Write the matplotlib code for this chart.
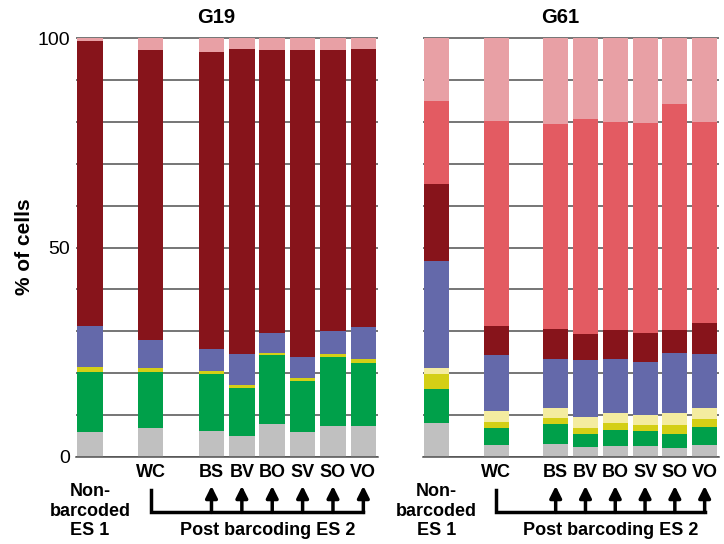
import matplotlib.pyplot as plt
import numpy as np

samples = ["Non", "WC", "BS", "BV", "BO", "SV", "SO", "VO"]
positions = [0, 2, 4, 5, 6, 7, 8, 9]
tick_names = ["", "WC", "BS", "BV", "BO", "SV", "SO", "VO"]

# percent of cells per population, stacked bottom -> top
g19_gray = [6.0, 6.8, 6.2, 5.0, 7.8, 6.0, 7.5, 7.4]
g19_green = [14.4, 13.4, 13.6, 11.5, 16.6, 12.1, 16.3, 15.1]
g19_yellow = [1.0, 1.1, 0.8, 0.8, 0.5, 0.8, 0.8, 0.9]
g19_ltyellow = [0, 0, 0, 0, 0, 0, 0, 0]
g19_blue = [9.9, 6.6, 5.2, 7.3, 4.6, 4.9, 5.4, 7.7]
g19_darkred = [68.1, 69.3, 71.0, 72.8, 67.8, 73.4, 67.3, 66.3]
g19_red = [0, 0, 0, 0, 0, 0, 0, 0]
g19_pink = [0.6, 2.8, 3.2, 2.6, 2.7, 2.8, 2.7, 2.6]

g61_gray = [8.1, 2.8, 3.2, 2.4, 2.5, 2.6, 2.2, 2.8]
g61_green = [8.2, 4.0, 4.6, 3.2, 3.9, 3.6, 3.4, 4.4]
g61_yellow = [3.4, 1.6, 1.5, 1.4, 1.7, 1.5, 2.0, 1.8]
g61_ltyellow = [1.6, 2.5, 2.5, 2.6, 2.5, 2.3, 2.9, 2.6]
g61_blue = [25.5, 13.4, 11.7, 13.5, 12.9, 12.6, 14.4, 12.9]
g61_darkred = [18.5, 6.9, 7.0, 6.2, 6.8, 6.9, 5.5, 7.4]
g61_red = [19.6, 49.0, 49.1, 51.5, 49.8, 50.2, 53.9, 48.2]
g61_pink = [15.1, 19.8, 20.4, 19.2, 19.9, 20.3, 15.7, 19.9]

colors = ["#c0c0c0", "#00a04a", "#d4cf16", "#f4eca0",
          "#6469aa", "#87141b", "#e35b62", "#e8a0a5"]

g19 = [g19_gray, g19_green, g19_yellow, g19_ltyellow,
       g19_blue, g19_darkred, g19_red, g19_pink]
g61 = [g61_gray, g61_green, g61_yellow, g61_ltyellow,
       g61_blue, g61_darkred, g61_red, g61_pink]

plt.rcParams["font.family"] = ["Liberation Sans", "DejaVu Sans"]

fig = plt.figure(figsize=(7.24, 5.44), dpi=100)
ax1 = fig.add_axes([0.105, 0.160, 0.417, 0.772])
ax2 = fig.add_axes([0.584, 0.160, 0.409, 0.772])


def draw_panel(ax, layers, title):
    bottom = np.zeros(len(positions))
    for vals, c in zip(layers, colors):
        ax.bar(positions, vals, width=0.84, bottom=bottom, color=c,
               edgecolor="none", zorder=2)
        bottom += np.array(vals)
    ax.set_xlim(-0.46, 9.48)
    ax.set_ylim(0, 100.3)
    ax.set_yticks(np.arange(0, 101, 10))
    ax.grid(axis="y", color="#505050", linewidth=1.1, zorder=0)
    ax.set_axisbelow(True)
    for s in ["top", "right", "left"]:
        ax.spines[s].set_visible(False)
    ax.spines["bottom"].set_color("#505050")
    ax.spines["bottom"].set_linewidth(1.1)
    ax.tick_params(axis="y", length=0, labelsize=14, pad=4)
    ax.set_xticks([])
    ax.set_title(title, fontsize=14.5, fontweight="bold", pad=10, x=0.464)

    tr = ax.get_xaxis_transform()
    for p, name in zip(positions, tick_names):
        if name:
            ax.text(p, -0.038, name, transform=tr, ha="center", va="center",
                    fontsize=13, fontweight="bold")
    ax.text(positions[0], -0.062, "Non-\nbarcoded\nES 1", transform=tr,
            ha="center", va="top", fontsize=13, fontweight="bold",
            linespacing=1.2)
    ax.text(5.85, -0.174, "Post barcoding ES 2", transform=tr,
            ha="center", va="center", fontsize=13, fontweight="bold")
    ax.plot([2, 2, 9], [-0.079, -0.131, -0.131], transform=tr,
            color="black", lw=2.5, clip_on=False, solid_joinstyle="miter")
    for p in positions[2:]:
        ax.annotate("", xy=(p, -0.069), xytext=(p, -0.132),
                    xycoords=tr, textcoords=tr, annotation_clip=False,
                    arrowprops=dict(arrowstyle="-|>,head_width=0.35,head_length=0.7",
                                    color="black", lw=2.5,
                                    shrinkA=0, shrinkB=0))


draw_panel(ax1, g19, "G19")
draw_panel(ax2, g61, "G61")

ax1.set_yticklabels([str(v) if v in (0, 50, 100) else ""
                     for v in range(0, 101, 10)])
ax2.set_yticklabels([])
ax1.set_ylabel("% of cells", fontsize=15, fontweight="bold", labelpad=3)

plt.savefig("out.png", dpi=100)
